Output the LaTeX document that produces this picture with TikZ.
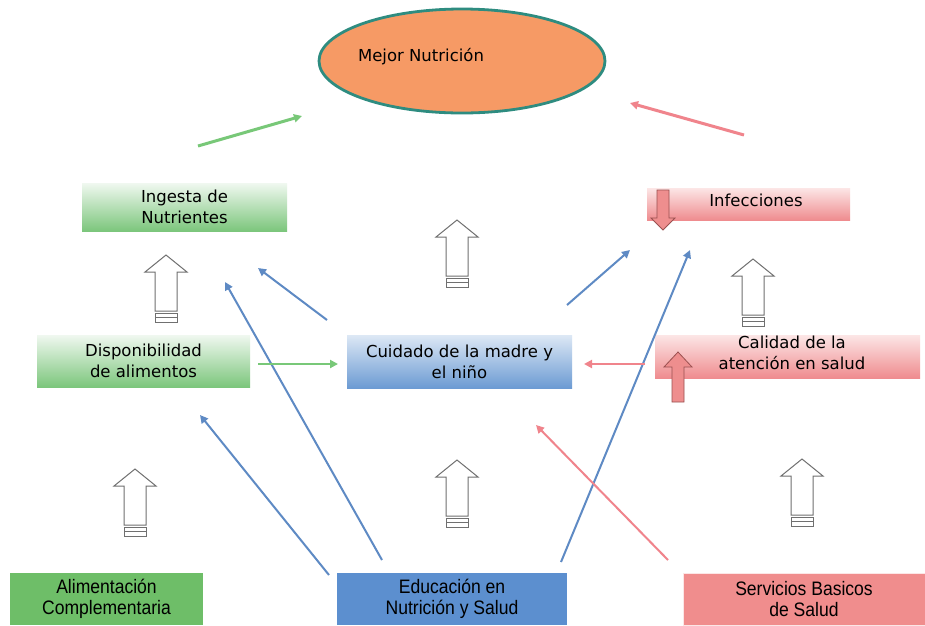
\documentclass[tikz,border=0pt]{standalone}
\usepackage{fontspec}
\setmainfont{DejaVu Sans}
\newfontfamily\botfont[FakeStretch=0.9]{Liberation Sans}
\usetikzlibrary{shapes.geometric,arrows.meta}
\definecolor{ellfill}{HTML}{F69A65}
\definecolor{ellline}{HTML}{2E8C80}
\definecolor{gtop}{HTML}{F0F8F0}
\definecolor{gbot}{HTML}{7CC67C}
\definecolor{btop}{HTML}{DDE8F5}
\definecolor{bbot}{HTML}{6C9BD3}
\definecolor{ptop}{HTML}{FCE6E6}
\definecolor{pbot}{HTML}{EF8C8F}
\definecolor{gsolid}{HTML}{6EBE68}
\definecolor{bsolid}{HTML}{5C8FCF}
\definecolor{psolid}{HTML}{F08D8D}
\definecolor{lblue}{HTML}{5E8AC4}
\definecolor{lgreen}{HTML}{78C878}
\definecolor{lpink}{HTML}{F0848C}
\definecolor{hollowline}{HTML}{707070}
\definecolor{blockfill}{HTML}{EE8E8E}
\definecolor{blockline}{HTML}{9A5050}
\begin{document}
\begin{tikzpicture}[x=1pt,y=-1pt,
  box/.style={inner sep=0pt, align=center, font=\fontsize{16.5}{21}\selectfont},
  greengrad/.style={box, top color=gtop, bottom color=gbot},
  bluegrad/.style={box, top color=btop, bottom color=bbot},
  pinkgrad/.style={box, top color=ptop, bottom color=pbot},
  botbox/.style={inner sep=0pt, align=center, font=\botfont\fontsize{19.5}{21}\selectfont, minimum height=52pt},
  conn/.style={line width=2pt, -{Triangle[length=8pt,width=8pt]}},
  blockarrow/.style={fill=blockfill, draw=blockline, line width=0.8pt, line join=miter},
  hollow/.pic={
    \draw[hollowline, fill=white, line width=1pt] (0,0) -- (21,17) -- (11,17) -- (11,56) -- (-11,56) -- (-11,17) -- (-21,17) -- cycle;
    \draw[hollowline, line width=1pt] (-11,58) rectangle (11,67);
    \draw[hollowline, line width=1pt] (-11,62.5) -- (11,62.5);
  }]
\useasboundingbox (0,0) rectangle (925,625);
\fill[white] (0,0) rectangle (925,625);

% top ellipse
\node[ellipse, draw=ellline, line width=2.8pt, fill=ellfill, minimum width=286pt, minimum height=104pt, inner sep=0pt] (nut) at (462,61) {};
\node[box] (nutlbl) at (421,57) {Mejor Nutrición};

% middle row boxes
\node[greengrad, minimum width=205pt, minimum height=48pt] (ing) at (184.5,207) {Ingesta de\\Nutrientes};
\node[pinkgrad, minimum width=203pt, minimum height=32pt] (inf) at (748.5,204) {};
\node[box] (inflbl) at (756,200) {Infecciones};
\node[greengrad, minimum width=213pt, minimum height=52pt] (disp) at (143.5,361) {Disponibilidad\\de alimentos};
\node[bluegrad, minimum width=225pt, minimum height=53pt] (cuid) at (459.5,361.5) {Cuidado de la madre y\\el niño};
\node[pinkgrad, minimum width=265pt, minimum height=43pt] (cal) at (787.5,356.5) {};
\node[box] (callbl) at (792,353) {Calidad de la\\atención en salud};

% bottom boxes
\node[botbox, fill=gsolid, minimum width=193pt] (alim) at (106.5,599) {Alimentación\\Complementaria};
\node[botbox, fill=bsolid, minimum width=230pt] (edu) at (452,599) {Educación en\\Nutrición y Salud};
\node[botbox, fill=psolid, draw=ptop, line width=1pt, minimum width=242pt] (serv) at (804,599) {Servicios Basicos\\de Salud};

% small block arrows
\draw[blockarrow] (657,190) -- (669,190) -- (669,218) -- (675,218) -- (663,230) -- (651,218) -- (657,218) -- cycle;
\draw[blockarrow] (672,402) -- (684,402) -- (684,367) -- (692,367) -- (678,352) -- (664,367) -- (672,367) -- cycle;

% hollow up arrows
\pic at (166,255) {hollow};
\pic at (457,220) {hollow};
\pic at (753,259) {hollow};
\pic at (135,469) {hollow};
\pic at (457,460) {hollow};
\pic at (802,459) {hollow};

% connector end points
\coordinate (g0s) at (198,146);  \coordinate (g0e) at (302,116);
\coordinate (p0s) at (744,135);  \coordinate (p0e) at (630,103);
\coordinate (b1s) at (327,320);  \coordinate (b1e) at (258,268);
\coordinate (b2s) at (382,560);  \coordinate (b2e) at (225,282);
\coordinate (b3s) at (329,575);  \coordinate (b3e) at (200,415);
\coordinate (b4s) at (567,305);  \coordinate (b4e) at (630,250);
\coordinate (b5s) at (561,562);  \coordinate (b5e) at (690,250);
\coordinate (g6s) at (258,364);  \coordinate (g6e) at (338,364);
\coordinate (p7s) at (645,364);  \coordinate (p7e) at (584,364);
\coordinate (p8s) at (668,560);  \coordinate (p8e) at (536,425);

\draw[conn, lgreen, line width=3pt] (g0s) -- (g0e);
\draw[conn, lpink, line width=3pt] (p0s) -- (p0e);
\draw[conn, lblue] (b1s) -- (b1e);
\draw[conn, lblue] (b2s) -- (b2e);
\draw[conn, lblue] (b3s) -- (b3e);
\draw[conn, lblue] (b4s) -- (b4e);
\draw[conn, lblue] (b5s) -- (b5e);
\draw[conn, lgreen] (g6s) -- (g6e);
\draw[conn, lpink] (p7s) -- (p7e);
\draw[conn, lpink] (p8s) -- (p8e);
\end{tikzpicture}
\end{document}
